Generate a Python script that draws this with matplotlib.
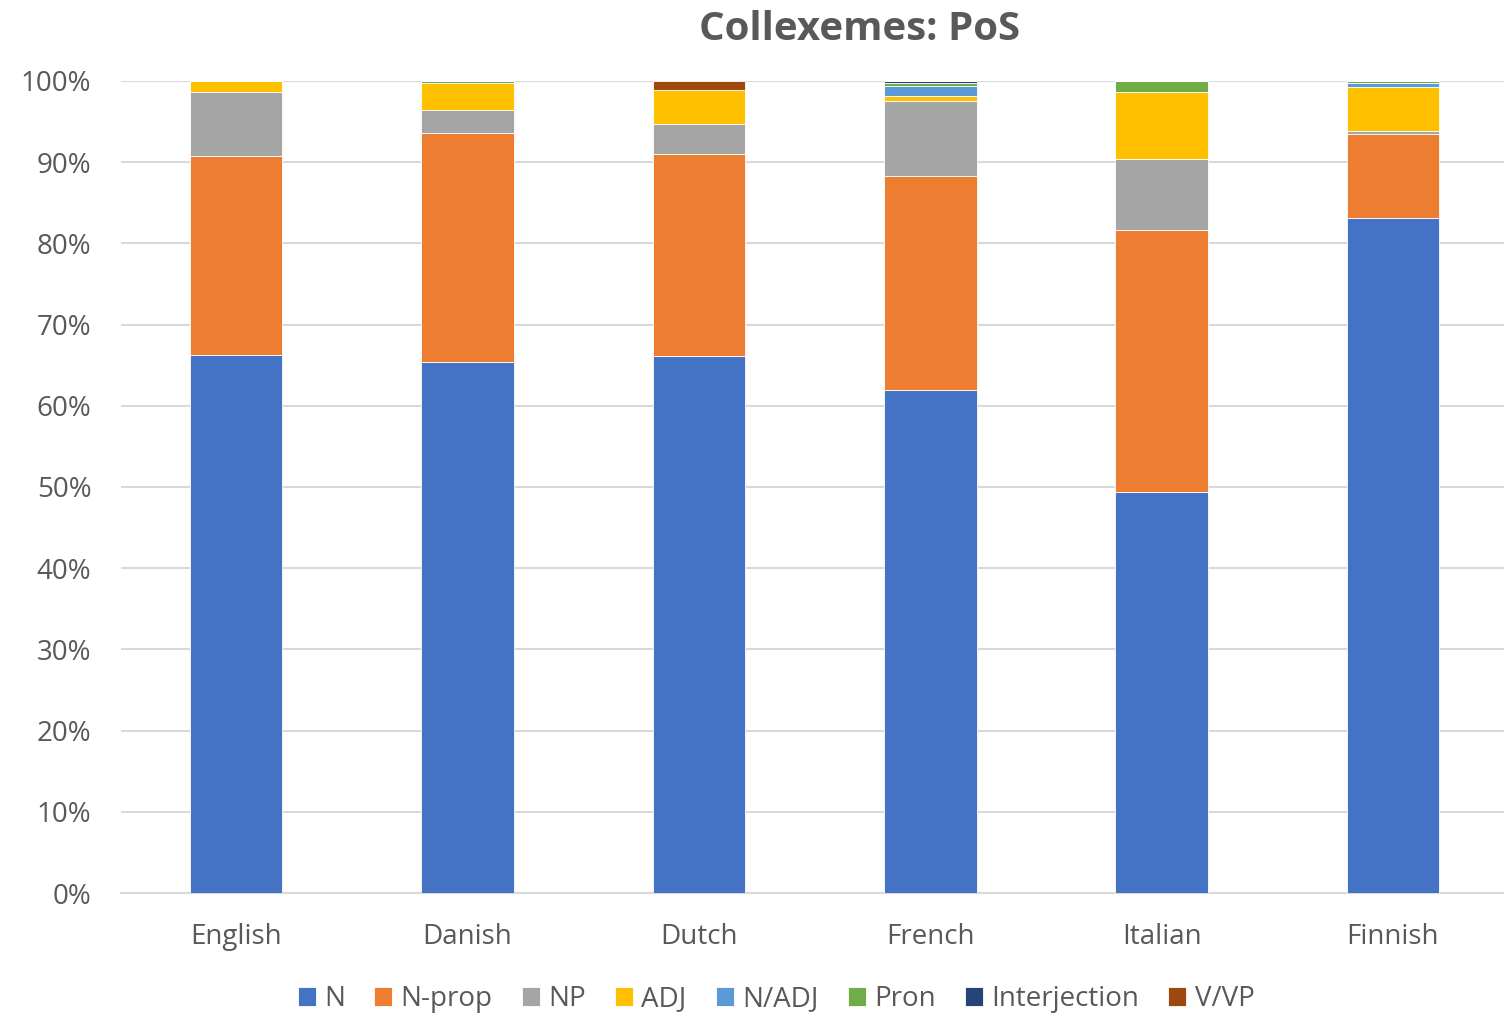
import matplotlib
matplotlib.use("Agg")
import matplotlib.pyplot as plt
import numpy as np
from matplotlib.ticker import FuncFormatter

plt.rcParams['font.family'] = ['Open Sans', 'DejaVu Sans']

languages = ["English", "Danish", "Dutch", "French", "Italian", "Finnish"]
series_names = ["N", "N-prop", "NP", "ADJ", "N/ADJ", "Pron", "Interjection", "V/VP"]
colors = ["#4472C4", "#ED7D31", "#A5A5A5", "#FFC000", "#5B9BD5", "#70AD47", "#264478", "#9E480E"]

N =            [66.3, 65.4, 66.1, 61.9, 49.4, 83.3]
N_prop =       [24.5, 28.2, 24.9, 26.4, 32.3, 10.3]
NP =           [7.9,  2.8,  3.7,  9.2,  8.7,  0.4]
ADJ =          [1.3,  3.3,  4.2,  0.6,  8.2,  5.4]
N_ADJ =        [0.0,  0.0,  0.0,  1.3,  0.0,  0.6]
Pron =         [0.0,  0.3,  0.0,  0.3,  1.4,  0.2]
Interjection = [0.0,  0.0,  0.0,  0.3,  0.0,  0.0]
V_VP =         [0.0,  0.0,  1.1,  0.0,  0.0,  0.0]

data = [N, N_prop, NP, ADJ, N_ADJ, Pron, Interjection, V_VP]
arr = np.array(data, dtype=float)
arr = arr / arr.sum(axis=0) * 100.0

fig = plt.figure(figsize=(15.04, 10.17), dpi=100)
ax = fig.add_axes([120.5/1504, 1 - 893/1017, (1504 - 120.5)/1504, (893 - 81)/1017])

x = np.arange(len(languages))
bottom = np.zeros(len(languages))
handles = []
for vals, name, c in zip(arr, series_names, colors):
    h = ax.bar(x, vals, 0.4, bottom=bottom, color=c, label=name,
               edgecolor="white", linewidth=0.6, zorder=3)
    handles.append(h)
    bottom += vals

ax.set_xlim(-0.5, 5.48)
ax.set_ylim(0, 100)
ax.set_yticks(np.arange(0, 101, 10))
ax.yaxis.set_major_formatter(FuncFormatter(lambda v, p: f"{int(v)}%"))
ax.grid(axis="y", color="#d9d9d9", linewidth=1.5, zorder=0)
ax.set_axisbelow(True)
for s in ["top", "right", "left"]:
    ax.spines[s].set_visible(False)
ax.spines["bottom"].set_color("#d9d9d9")
ax.spines["bottom"].set_linewidth(1.5)
ax.set_xticks(x)
ax.set_xticklabels(languages)
ax.tick_params(axis="both", length=0, labelsize=20, labelcolor="#595959")
ax.tick_params(axis="x", pad=21.5)
ax.tick_params(axis="y", pad=21)

fig.text(860/1504, 1 - 29/1017, "Collexemes: PoS", ha="center", va="center",
         fontsize=29, fontweight="bold", color="#595959")

fig.legend(handles=handles, labels=series_names, loc="center",
           bbox_to_anchor=(776/1504, 1 - 999/1017), ncol=8, frameon=False,
           fontsize=20, handlelength=0.65, handleheight=0.65, handletextpad=0.3,
           columnspacing=1.05, labelcolor="#595959")

fig.savefig("out.png", dpi=100)
